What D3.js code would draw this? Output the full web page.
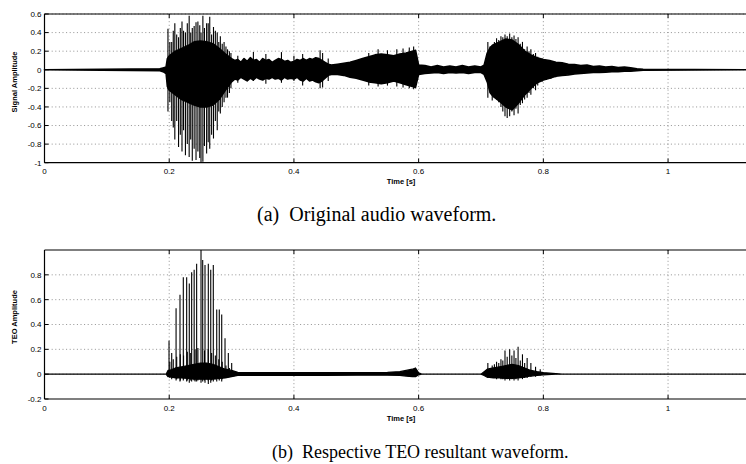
<!DOCTYPE html>
<html><head><meta charset="utf-8">
<script src="https://cdn.jsdelivr.net/npm/d3@7"></script>
<style>
html,body{margin:0;padding:0;background:#fff;}
svg{display:block;}
</style></head>
<body>
<svg id="c" width="746" height="464"></svg>
<script>
// ---------- DATA ----------
const xTicks = [0, 0.2, 0.4, 0.6, 0.8, 1];
const xTickLabels = ["0", "0.2", "0.4", "0.6", "0.8", "1"];
const yTicksA = [-1, -0.8, -0.6, -0.4, -0.2, 0, 0.2, 0.4, 0.6];
const yTickLabelsA = ["-1", "-0.8", "-0.6", "-0.4", "-0.2", "0", "0.2", "0.4", "0.6"];
const yTicksB = [-0.2, 0, 0.2, 0.4, 0.6, 0.8];
const yTickLabelsB = ["-0.2", "0", "0.2", "0.4", "0.6", "0.8"];

// (a) original waveform: dense envelope (time, upper, lower)
const envTimeA = [0, 0.185, 0.19, 0.195, 0.197, 0.20, 0.21, 0.22, 0.23, 0.24, 0.25, 0.26, 0.27, 0.28, 0.29, 0.30, 0.305, 0.31, 0.315, 0.32, 0.325, 0.33, 0.335, 0.34, 0.345, 0.35, 0.355, 0.36, 0.365, 0.37, 0.375, 0.38, 0.385, 0.39, 0.395, 0.40, 0.405, 0.41, 0.415, 0.42, 0.425, 0.43, 0.435, 0.44, 0.445, 0.45, 0.455, 0.46, 0.47, 0.48, 0.49, 0.50, 0.51, 0.52, 0.53, 0.54, 0.55, 0.56, 0.57, 0.58, 0.59, 0.595, 0.60, 0.61, 0.62, 0.63, 0.64, 0.65, 0.66, 0.67, 0.68, 0.69, 0.70, 0.705, 0.71, 0.715, 0.72, 0.73, 0.74, 0.75, 0.76, 0.77, 0.78, 0.79, 0.80, 0.81, 0.82, 0.83, 0.84, 0.85, 0.86, 0.87, 0.88, 0.89, 0.90, 0.91, 0.92, 0.93, 0.94, 0.95, 0.96, 1.125];
const envUpA =   [0, 0.01, 0.02, 0.03, 0.12, 0.15, 0.20, 0.23, 0.26, 0.30, 0.31, 0.30, 0.28, 0.23, 0.17, 0.12, 0.10, 0.11, 0.08, 0.12, 0.09, 0.13, 0.10, 0.11, 0.08, 0.12, 0.10, 0.11, 0.08, 0.10, 0.12, 0.11, 0.09, 0.10, 0.08, 0.09, 0.11, 0.10, 0.12, 0.10, 0.12, 0.11, 0.13, 0.12, 0.10, 0.08, 0.06, 0.05, 0.06, 0.07, 0.08, 0.10, 0.12, 0.14, 0.16, 0.17, 0.16, 0.15, 0.17, 0.18, 0.20, 0.21, 0.05, 0.045, 0.03, 0.045, 0.03, 0.04, 0.03, 0.045, 0.03, 0.04, 0.03, 0.05, 0.18, 0.24, 0.27, 0.30, 0.33, 0.32, 0.27, 0.20, 0.16, 0.13, 0.11, 0.10, 0.08, 0.075, 0.06, 0.055, 0.045, 0.05, 0.035, 0.04, 0.03, 0.035, 0.025, 0.03, 0.02, 0.01, 0.005, 0];
const envLoA =   [0, -0.01, -0.02, -0.04, -0.18, -0.22, -0.27, -0.32, -0.35, -0.38, -0.40, -0.40, -0.38, -0.32, -0.22, -0.13, -0.10, -0.11, -0.08, -0.10, -0.12, -0.09, -0.11, -0.08, -0.10, -0.11, -0.09, -0.10, -0.08, -0.10, -0.09, -0.11, -0.08, -0.10, -0.09, -0.10, -0.08, -0.11, -0.12, -0.09, -0.12, -0.11, -0.13, -0.14, -0.12, -0.09, -0.06, -0.05, -0.05, -0.06, -0.08, -0.09, -0.11, -0.13, -0.14, -0.15, -0.14, -0.12, -0.14, -0.16, -0.18, -0.19, -0.05, -0.04, -0.035, -0.03, -0.04, -0.03, -0.035, -0.03, -0.04, -0.03, -0.03, -0.05, -0.13, -0.25, -0.29, -0.34, -0.40, -0.43, -0.36, -0.27, -0.20, -0.14, -0.11, -0.09, -0.07, -0.06, -0.055, -0.045, -0.04, -0.035, -0.03, -0.03, -0.025, -0.02, -0.02, -0.015, -0.015, -0.01, -0.005, 0];

// (a) pitch-pulse spikes (time, positive peak, negative peak)
const spikeTimeA = [0.198, 0.201, 0.204, 0.2065, 0.209, 0.212, 0.215, 0.2178, 0.2205, 0.223, 0.226, 0.229, 0.232, 0.2345, 0.237, 0.240, 0.243, 0.246, 0.249, 0.251, 0.254, 0.2565, 0.260, 0.2625, 0.265, 0.268, 0.271, 0.274, 0.277, 0.2795, 0.282, 0.285, 0.288, 0.291, 0.2935, 0.2965, 0.299,
  0.31, 0.335, 0.355, 0.38, 0.40, 0.414, 0.442, 0.446, 0.455, 0.52, 0.535, 0.55, 0.565, 0.575, 0.585, 0.592,
  0.711, 0.7145, 0.718, 0.7215, 0.725, 0.7285, 0.732, 0.735, 0.7385, 0.742, 0.746, 0.7495, 0.753, 0.756, 0.7595, 0.763, 0.7665, 0.770, 0.774, 0.777, 0.780, 0.784, 0.7875, 0.791, 0.798, 0.805, 0.812, 0.82];
const spikeUpA = [0.44, 0.30, 0.30, 0.42, 0.50, 0.38, 0.35, 0.45, 0.52, 0.42, 0.40, 0.50, 0.58, 0.40, 0.45, 0.47, 0.51, 0.52, 0.48, 0.40, 0.58, 0.45, 0.50, 0.50, 0.57, 0.38, 0.46, 0.42, 0.40, 0.30, 0.36, 0.28, 0.30, 0.25, 0.22, 0.20, 0.18,
  0.15, 0.19, 0.17, 0.19, 0.15, 0.17, 0.21, 0.18, 0.12, 0.18, 0.22, 0.21, 0.22, 0.23, 0.24, 0.25,
  0.30, 0.25, 0.27, 0.30, 0.34, 0.32, 0.36, 0.35, 0.38, 0.36, 0.39, 0.35, 0.37, 0.33, 0.35, 0.28, 0.30, 0.22, 0.25, 0.20, 0.22, 0.17, 0.18, 0.14, 0.12, 0.10, 0.09, 0.08];
const spikeLoA = [-0.45, -0.35, -0.55, -0.62, -0.75, -0.55, -0.83, -0.70, -0.88, -0.65, -0.92, -0.80, -0.94, -0.75, -0.98, -0.85, -0.97, -0.88, -0.95, -1.0, -0.99, -0.82, -0.90, -0.78, -0.85, -0.70, -0.74, -0.55, -0.65, -0.45, -0.47, -0.40, -0.35, -0.30, -0.30, -0.25, -0.20,
  -0.14, -0.12, -0.15, -0.14, -0.12, -0.17, -0.20, -0.19, -0.12, -0.17, -0.18, -0.17, -0.18, -0.19, -0.20, -0.21,
  -0.30, -0.25, -0.33, -0.30, -0.32, -0.35, -0.40, -0.45, -0.50, -0.52, -0.50, -0.45, -0.49, -0.42, -0.47, -0.38, -0.36, -0.32, -0.30, -0.25, -0.27, -0.20, -0.22, -0.17, -0.13, -0.11, -0.10, -0.08];

// (b) TEO envelope (time, upper, lower)
const envTimeB = [0, 0.195, 0.198, 0.20, 0.21, 0.22, 0.23, 0.24, 0.25, 0.26, 0.27, 0.28, 0.29, 0.30, 0.31, 0.35, 0.40, 0.45, 0.50, 0.55, 0.57, 0.58, 0.59, 0.595, 0.60, 0.605, 0.70, 0.705, 0.71, 0.72, 0.73, 0.74, 0.75, 0.76, 0.77, 0.78, 0.79, 0.80, 0.82, 0.83, 1.125];
const envUpB =   [0, 0, 0.03, 0.03, 0.05, 0.06, 0.07, 0.08, 0.09, 0.09, 0.08, 0.06, 0.04, 0.03, 0.015, 0.012, 0.012, 0.012, 0.012, 0.015, 0.02, 0.03, 0.04, 0.05, 0.01, 0, 0, 0.02, 0.04, 0.05, 0.06, 0.07, 0.08, 0.07, 0.05, 0.03, 0.02, 0.012, 0.005, 0, 0];
const envLoB =   [0, 0, -0.02, -0.02, -0.03, -0.03, -0.035, -0.04, -0.04, -0.04, -0.04, -0.035, -0.03, -0.02, -0.01, -0.01, -0.01, -0.01, -0.008, -0.008, -0.01, -0.015, -0.02, -0.02, -0.005, 0, 0, -0.01, -0.025, -0.03, -0.03, -0.035, -0.035, -0.03, -0.025, -0.015, -0.01, -0.005, 0, 0, 0];

// (b) TEO spikes (time, positive peak, negative dip)
const spikeTimeB = [0.1997, 0.201, 0.204, 0.2065, 0.211, 0.212, 0.2173, 0.2178, 0.2226, 0.223, 0.228, 0.229, 0.2322, 0.2345, 0.236, 0.240, 0.2415, 0.244, 0.246, 0.251, 0.2537, 0.2565, 0.2574, 0.2627, 0.2625, 0.2666, 0.268, 0.2707, 0.274, 0.2762, 0.2795, 0.2803, 0.2842, 0.285, 0.2895, 0.291, 0.2948, 0.2965, 0.3002,
  0.711, 0.7145, 0.718, 0.7215, 0.725, 0.7285, 0.732, 0.735, 0.7385, 0.742, 0.746, 0.7495, 0.753, 0.756, 0.7595, 0.763, 0.7665, 0.770, 0.774, 0.780, 0.7875, 0.795];
const spikeUpB = [0.27, 0.10, 0.17, 0.12, 0.53, 0.14, 0.64, 0.16, 0.78, 0.15, 0.78, 0.18, 0.73, 0.17, 0.82, 0.84, 0.20, 0.89, 0.21, 1.0, 0.92, 0.19, 0.88, 0.89, 0.20, 0.84, 0.17, 0.88, 0.15, 0.52, 0.12, 0.52, 0.48, 0.10, 0.29, 0.07, 0.17, 0.05, 0.09,
  0.09, 0.05, 0.07, 0.08, 0.10, 0.09, 0.12, 0.11, 0.19, 0.14, 0.20, 0.15, 0.19, 0.13, 0.22, 0.11, 0.16, 0.09, 0.13, 0.09, 0.06, 0.04];
const spikeLoB = [-0.02, -0.03, -0.04, -0.03, -0.05, -0.04, -0.06, -0.05, -0.05, -0.04, -0.06, -0.05, -0.07, -0.05, -0.06, -0.05, -0.06, -0.06, -0.05, -0.07, -0.06, -0.05, -0.07, -0.08, -0.05, -0.07, -0.05, -0.06, -0.04, -0.06, -0.04, -0.05, -0.06, -0.04, -0.03, -0.03, -0.02, -0.02, -0.01,
  -0.03, -0.02, -0.03, -0.03, -0.04, -0.03, -0.04, -0.04, -0.05, -0.04, -0.05, -0.04, -0.05, -0.04, -0.05, -0.03, -0.04, -0.03, -0.03, -0.02, -0.02, -0.01];

// ---------- DRAWING ----------
const svg = d3.select("#c");
const x = d3.scaleLinear().domain([0, 1.125]).range([44.5, 746]);

function panel(cfg) {
  const y = d3.scaleLinear().domain(cfg.yDomain).range([cfg.bottom, cfg.top]);
  const g = svg.append("g");
  const [x0, x1] = x.range();

  // dotted grid
  g.selectAll(".gx").data(xTicks.filter(d => d > 0)).join("line")
    .attr("x1", d => x(d)).attr("x2", d => x(d))
    .attr("y1", cfg.top).attr("y2", cfg.bottom)
    .attr("stroke", "#777").attr("stroke-width", 0.8).attr("stroke-dasharray", "1,2.6");
  g.selectAll(".gy").data(cfg.yTicks.slice(1)).join("line")
    .attr("x1", x0).attr("x2", x1)
    .attr("y1", d => y(d)).attr("y2", d => y(d))
    .attr("stroke", "#777").attr("stroke-width", 0.8).attr("stroke-dasharray", "1,2.6");

  // envelope
  const env = cfg.envTime.map((t, i) => ({t, hi: cfg.envUp[i], lo: cfg.envLo[i]}));
  g.append("path").datum(env)
    .attr("d", d3.area().x(d => x(d.t)).y0(d => y(d.lo)).y1(d => y(d.hi)))
    .attr("fill", "#000").attr("stroke", "#000").attr("stroke-width", cfg.baseW).attr("stroke-linejoin", "round");

  // spikes
  const sp = cfg.spikeTime.map((t, i) => ({t, hi: cfg.spikeUp[i], lo: cfg.spikeLo[i]}));
  g.selectAll(".sp").data(sp).join("line")
    .attr("x1", d => x(d.t)).attr("x2", d => x(d.t))
    .attr("y1", d => y(d.lo)).attr("y2", d => y(d.hi))
    .attr("stroke", "#000").attr("stroke-width", 1.1);

  // frame
  g.append("line").attr("x1", x0).attr("x2", x1).attr("y1", cfg.top).attr("y2", cfg.top).attr("stroke", "#000").attr("stroke-width", 1.2);
  g.append("line").attr("x1", x0).attr("x2", x1).attr("y1", cfg.bottom).attr("y2", cfg.bottom).attr("stroke", "#000").attr("stroke-width", 1.2);
  g.append("line").attr("x1", x0).attr("x2", x0).attr("y1", cfg.top).attr("y2", cfg.bottom).attr("stroke", "#000").attr("stroke-width", 1.2);

  // ticks (inward, bottom + top, left)
  xTicks.forEach(d => {
    g.append("line").attr("x1", x(d)).attr("x2", x(d)).attr("y1", cfg.bottom).attr("y2", cfg.bottom - 4).attr("stroke", "#000").attr("stroke-width", 1);
    g.append("line").attr("x1", x(d)).attr("x2", x(d)).attr("y1", cfg.top).attr("y2", cfg.top + 4).attr("stroke", "#000").attr("stroke-width", 1);
  });
  cfg.yTicks.forEach(d => {
    g.append("line").attr("x1", x0).attr("x2", x0 + 4).attr("y1", y(d)).attr("y2", y(d)).attr("stroke", "#000").attr("stroke-width", 1);
  });

  // tick labels
  g.selectAll(".xl").data(xTicks).join("text")
    .attr("x", d => x(d)).attr("y", cfg.bottom + 11.5)
    .attr("text-anchor", "middle")
    .style("font", "8px 'Liberation Sans', Arial, sans-serif").attr("fill", "#000")
    .text((d, i) => xTickLabels[i]);
  g.selectAll(".yl").data(cfg.yTicks).join("text")
    .attr("x", x0 - 3).attr("y", d => y(d) + 2.9)
    .attr("text-anchor", "end")
    .style("font", "8px 'Liberation Sans', Arial, sans-serif").attr("fill", "#000")
    .text((d, i) => cfg.yTickLabels[i]);

  // axis labels
  g.append("text").attr("x", 401).attr("y", cfg.bottom + 21.5)
    .attr("text-anchor", "middle")
    .style("font", "bold 7.5px 'Liberation Sans', Arial, sans-serif").text("Time [s]");
  g.append("text").attr("transform", `translate(17,${cfg.yLabelY}) rotate(-90)`)
    .attr("text-anchor", "middle")
    .style("font", "bold 7.5px 'Liberation Sans', Arial, sans-serif").text(cfg.yLabel);
}

panel({top: 14, bottom: 162.7, yDomain: [-1, 0.6], yTicks: yTicksA, yTickLabels: yTickLabelsA,
  envTime: envTimeA, envUp: envUpA, envLo: envLoA,
  spikeTime: spikeTimeA, spikeUp: spikeUpA, spikeLo: spikeLoA,
  yLabel: "Signal Amplitude", yLabelY: 82, baseW: 1.6});
panel({top: 250, bottom: 399, yDomain: [-0.2, 1.0], yTicks: yTicksB, yTickLabels: yTickLabelsB,
  envTime: envTimeB, envUp: envUpB, envLo: envLoB,
  spikeTime: spikeTimeB, spikeUp: spikeUpB, spikeLo: spikeLoB,
  yLabel: "TEO Amplitude", yLabelY: 317, baseW: 1.2});

// captions
svg.append("text").attr("x", 257).attr("y", 221).attr("text-anchor", "start")
  .style("font", "20px 'Liberation Serif', 'Times New Roman', serif").attr("xml:space", "preserve")
  .text("(a)  Original audio waveform.");
svg.append("text").attr("x", 272).attr("y", 458).attr("text-anchor", "start")
  .style("font", "18px 'Liberation Serif', 'Times New Roman', serif").attr("xml:space", "preserve")
  .text("(b)  Respective TEO resultant waveform.");
</script>
</body></html>
